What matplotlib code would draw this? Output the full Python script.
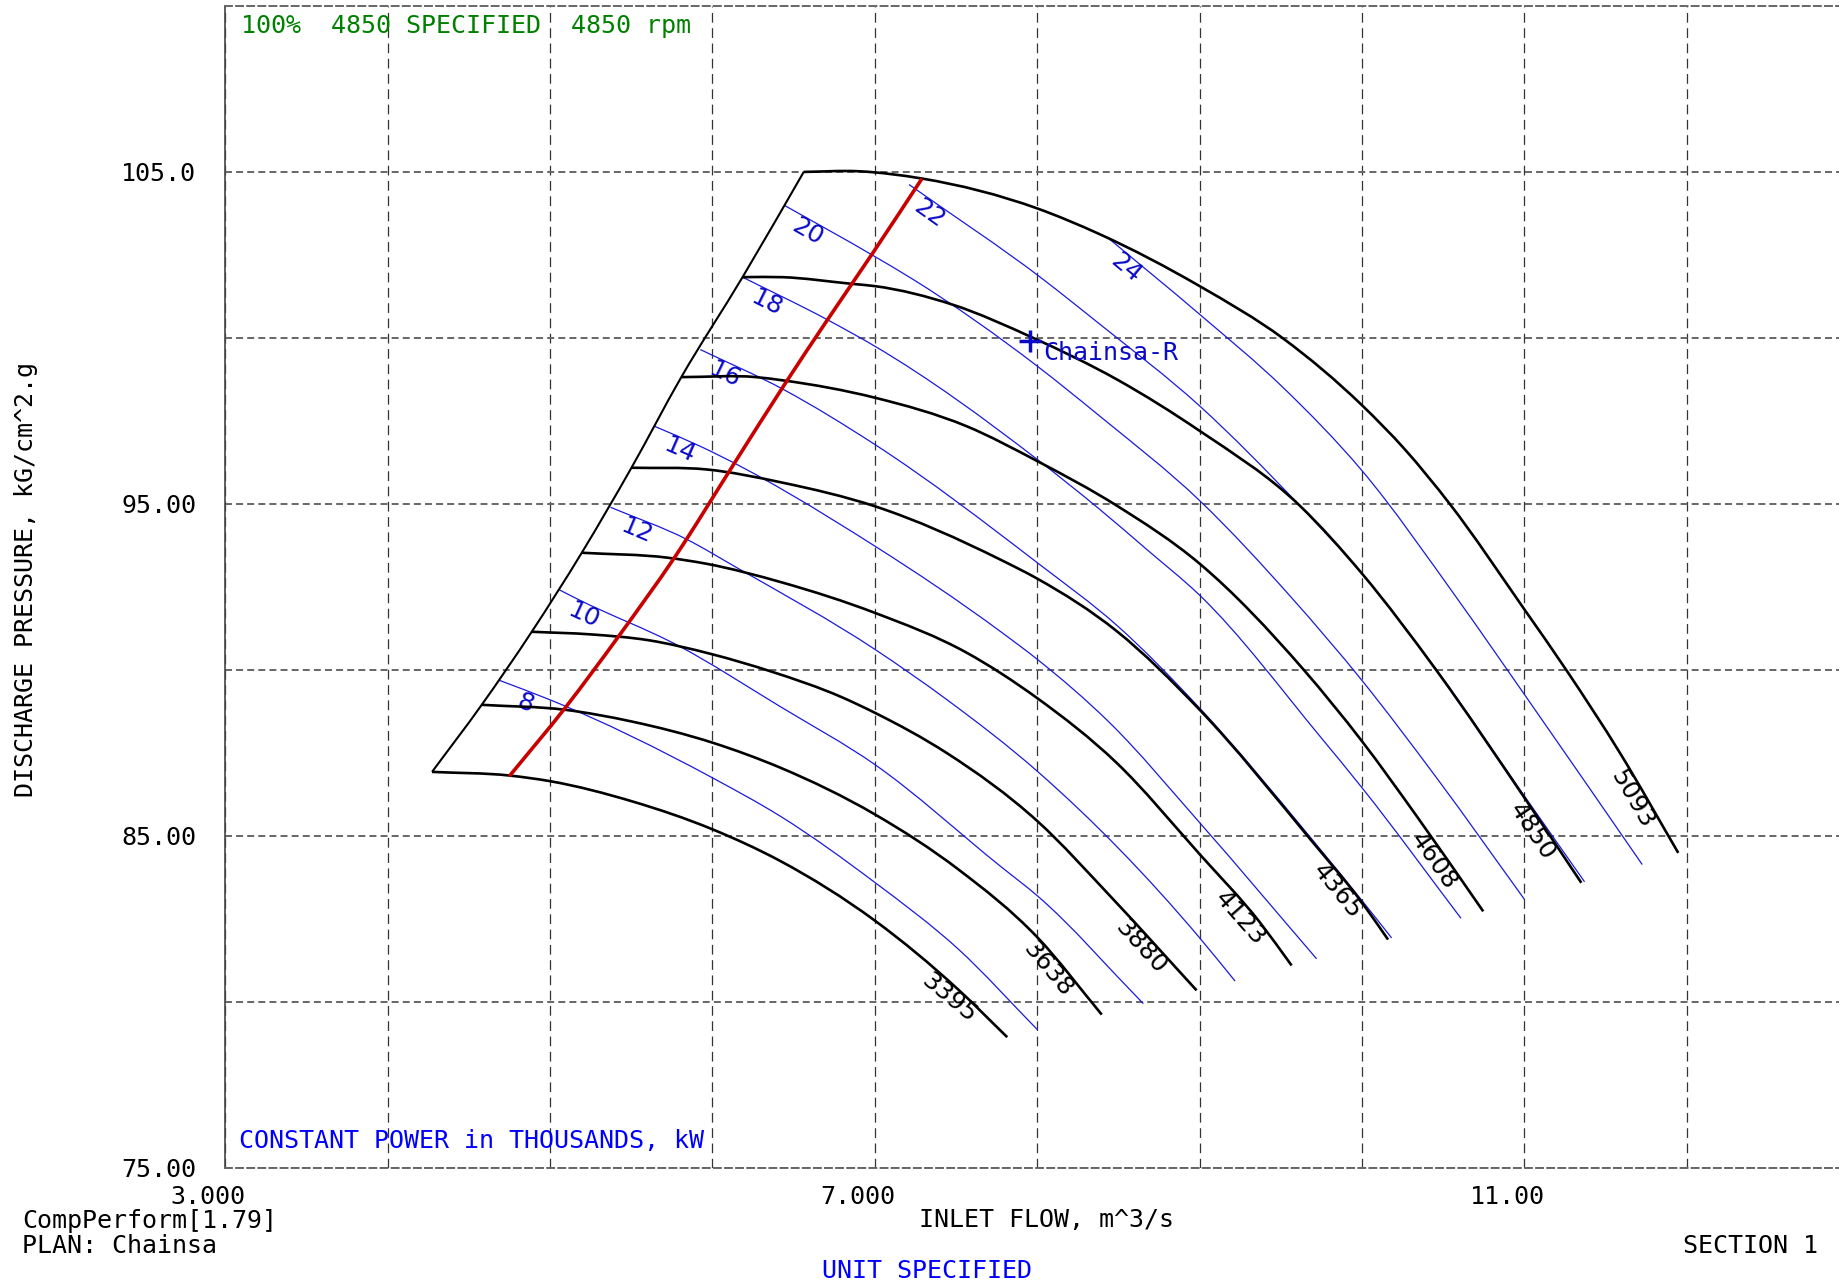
import numpy as np
import matplotlib
matplotlib.use("Agg")
from matplotlib import pyplot as plt
from matplotlib.path import Path
from matplotlib.patches import PathPatch
from matplotlib.transforms import ScaledTranslation

plt.rcParams["font.family"] = ["DejaVu Sans Mono"]
plt.rcParams["lines.scale_dashes"] = False

# speed lines, rpm: inlet flow (m^3/s) and discharge pressure (kG/cm^2.g)
speed_labels = ["3395", "3638", "3880", "4123", "4365", "4608", "4850", "5093"]
speed_flow = [
    [4.273, 4.75, 5.0, 5.5, 6.0, 6.416, 7.0, 7.512, 7.815],
    [4.579, 5.093, 5.5, 6.0, 6.416, 7.0, 7.512, 8.0, 8.397],
    [4.887, 5.254, 5.6, 6.0, 6.357, 6.796, 7.0, 7.442, 8.0, 8.468, 8.981],
    [5.195, 5.725, 5.961, 6.432, 7.0, 7.565, 8.0, 8.489, 9.0, 9.372, 9.566],
    [5.501, 5.961, 6.432, 7.0, 7.77, 8.0, 8.489, 9.0, 9.683, 10.0, 10.16],
    [5.808, 6.267, 6.436, 7.0, 7.565, 8.0, 8.489, 9.0, 9.638, 10.0, 10.336, 10.746],
    [6.185, 6.43, 6.856, 7.0, 7.48, 7.975, 8.49, 9.0, 9.616, 10.0, 10.459, 11.0, 11.35],
    [6.562, 6.9, 7.29, 8.0, 8.386, 9.0, 9.515, 10.0, 10.264, 10.54, 11.0, 11.26, 11.588, 11.947],
]
speed_pres = [
    [86.93, 86.82, 86.65, 86.05, 85.2, 84.25, 82.45, 80.38, 78.94],
    [88.95, 88.8, 88.45, 87.81, 87.06, 85.65, 84.0, 81.95, 79.62],
    [91.15, 91.07, 90.9, 90.47, 89.96, 89.18, 88.71, 87.5, 85.45, 83.09, 80.35],
    [93.53, 93.38, 93.2, 92.63, 91.72, 90.52, 89.15, 87.2, 84.45, 82.39, 81.1],
    [96.09, 96.04, 95.64, 94.93, 93.33, 92.75, 91.17, 88.8, 84.89, 82.99, 81.88],
    [98.82, 98.82, 98.72, 98.2, 97.34, 96.29, 94.95, 93.2, 90.02, 87.85, 85.6, 82.73],
    [101.83, 101.83, 101.63, 101.56, 101.0, 100.0, 98.75, 97.2, 94.95, 92.9, 89.98, 86.15, 83.59],
    [105.0, 105.02, 104.8, 103.9, 103.12, 101.56, 99.98, 97.97, 96.64, 95.0, 91.82, 89.98, 87.5, 84.49],
]

# constant power lines, thousands kW
power_labels = ["8", "10", "12", "14", "16", "18", "20", "22", "24"]
power_flow = [
    [4.686, 5.0, 6.0, 6.416, 7.0, 7.512, 8.0],
    [5.054, 5.175, 5.794, 6.416, 7.0, 7.77, 8.0, 8.653],
    [5.372, 5.843, 6.15, 7.0, 7.442, 8.0, 9.0, 9.218],
    [5.643, 5.923, 7.0, 7.77, 8.0, 8.448, 9.0, 9.72],
    [5.925, 6.436, 7.0, 8.0, 8.5, 9.0, 9.683, 10.0, 10.182],
    [6.185, 6.703, 7.0, 8.0, 8.386, 8.674, 9.0, 9.741, 10.0, 10.609],
    [6.444, 6.986, 7.236, 8.0, 8.386, 9.0, 9.576, 10.0, 10.459, 11.0],
    [7.21, 8.037, 8.386, 9.0, 9.616, 10.0, 10.459, 11.0, 11.37],
    [8.434, 9.0, 9.515, 10.0, 10.593, 11.0, 11.725],
]
power_pres = [
    [89.69, 89.1, 86.75, 85.6, 83.6, 81.6, 79.17],
    [92.42, 92.12, 90.72, 88.9, 87.15, 84.1, 83.2, 79.95],
    [94.9, 93.93, 93.08, 90.62, 89.11, 86.95, 81.93, 80.63],
    [97.34, 96.74, 93.73, 91.17, 90.32, 88.4, 85.4, 81.3],
    [99.65, 98.45, 96.79, 93.23, 91.3, 88.85, 84.95, 83.05, 81.93],
    [101.83, 100.56, 99.75, 96.34, 94.83, 93.63, 92.25, 88.0, 86.45, 82.52],
    [103.99, 102.49, 101.76, 99.15, 97.64, 95.1, 92.12, 89.68, 86.75, 83.09],
    [104.62, 101.76, 100.41, 97.95, 94.95, 92.9, 90.0, 86.2, 83.62],
    [103.02, 100.71, 98.5, 96.0, 92.1, 89.26, 84.14],
]

# surge line
surge_flow = [4.273, 4.579, 4.887, 5.195, 5.501, 5.808, 6.185, 6.562]
surge_pres = [86.93, 88.95, 91.15, 93.53, 96.09, 98.82, 101.83, 105.0]

# red control line
ctrl_flow = [4.749, 5.093, 5.423, 5.772, 6.13, 6.444, 6.703, 6.986, 7.29]
ctrl_pres = [86.8, 88.86, 91.02, 93.43, 96.19, 98.6, 100.51, 102.55, 104.8]

# rated point
op_flow = 7.957
op_pres = 99.92
op_name = "Chainsa-R"

x_major = [3, 7, 11]
x_major_labels = ["3.000", "7.000", "11.00"]
x_minor = [4, 5, 6, 8, 9, 10, 12]
y_major = [75, 85, 95, 105]
y_major_labels = ["75.00", "85.00", "95.00", "105.0"]
y_minor = [80, 90, 100]

W, H = 1840, 1286
fig = plt.figure(figsize=(W / 100, H / 100), dpi=100)
ax = fig.add_axes([225.3 / W, 1 - 1168 / H, 1 - 225.3 / W, (1168 - 5.9) / H])
ax.set_xlim(3, 12.943)
ax.set_ylim(75, 110)

# grid
ax.set_xticks(x_major)
ax.set_xticklabels(x_major_labels)
ax.set_xticks(x_minor, minor=True)
ax.set_yticks(y_major)
ax.set_yticklabels(y_major_labels)
ax.set_yticks(y_minor, minor=True)
ax.set_axisbelow(True)
ax.grid(which="both", axis="x", color="#333333", lw=0.9, linestyle=(0, (7, 4)))
ax.grid(which="both", axis="y", color="#666666", lw=1.4, linestyle=(0, (5, 3)))
ax.tick_params(which="both", length=0)
ax.tick_params(axis="y", pad=21, labelsize=18)
ax.tick_params(axis="x", pad=12, labelsize=18)
for lab in ax.get_xticklabels():
    lab.set_transform(lab.get_transform() + ScaledTranslation(-0.17, 0, fig.dpi_scale_trans))

ax.spines["right"].set_visible(False)
ax.spines["left"].set_color("#444444")
ax.spines["left"].set_linewidth(1.2)
for s in ["top", "bottom"]:
    ax.spines[s].set_color("#666666")
    ax.spines[s].set_linewidth(1.4)
    ax.spines[s].set_linestyle((0, (5, 3)))


def curve(xs, ys, **kw):
    # smooth cubic bezier through the read points (x is the parameter)
    x = np.asarray(xs, float)
    y = np.asarray(ys, float)
    h = np.diff(x)
    d = np.diff(y) / h
    m = np.empty_like(y)
    m[0], m[-1] = d[0], d[-1]
    m[1:-1] = (d[:-1] * h[1:] + d[1:] * h[:-1]) / (h[:-1] + h[1:])
    verts = [(x[0], y[0])]
    codes = [Path.MOVETO]
    for i in range(len(h)):
        verts += [(x[i] + h[i] / 3, y[i] + m[i] * h[i] / 3),
                  (x[i + 1] - h[i] / 3, y[i + 1] - m[i + 1] * h[i] / 3),
                  (x[i + 1], y[i + 1])]
        codes += [Path.CURVE4] * 3
    ax.add_patch(PathPatch(Path(verts, codes), fill=False, **kw))


def label_on_line(xs, ys, text, dist, offset, from_end, **kw):
    pts = ax.transData.transform(np.column_stack([xs, ys]))
    if from_end:
        pts = pts[::-1]
    seg = np.diff(pts, axis=0)
    seglen = np.hypot(seg[:, 0], seg[:, 1])
    cum = np.concatenate([[0], np.cumsum(seglen)])
    i = int(np.clip(np.searchsorted(cum, dist) - 1, 0, len(seg) - 1))
    f = (dist - cum[i]) / seglen[i]
    p = pts[i] + f * seg[i]
    t = seg[i] / seglen[i]
    if t[0] < 0:
        t = -t
    n = np.array([t[1], -t[0]])
    q = ax.transData.inverted().transform(p + offset * n)
    ang = np.degrees(np.arctan2(t[1], t[0]))
    ax.text(q[0], q[1], text, rotation=ang, rotation_mode="anchor",
            ha="center", va="center", **kw)


# constant power lines
for fx, py, lab in zip(power_flow, power_pres, power_labels):
    curve(fx, py, edgecolor="#1a1adc", lw=0.9, zorder=2)
    label_on_line(fx, py, lab, 33, 12, False, color="#0a0ac8",
                  fontsize=18, family="DejaVu Sans")

# speed lines
for fx, py, lab in zip(speed_flow, speed_pres, speed_labels):
    curve(fx, py, edgecolor="black", lw=1.9, zorder=3, capstyle="butt")
    label_on_line(fx, py, lab, 70, 12, True, color="black",
                  fontsize=18, family="DejaVu Sans")

curve(surge_flow, surge_pres, edgecolor="black", lw=1.5, zorder=3)
curve(ctrl_flow, ctrl_pres, edgecolor="#c80000", lw=2.6, zorder=4)

ax.plot(op_flow, op_pres, marker="+", color="#0a0ac8", ms=16, mew=2.5, zorder=5)
ax.annotate(op_name, (op_flow, op_pres), xytext=(9, -9), textcoords="offset points",
            ha="left", va="center", color="#0a0ac8", fontsize=18, zorder=5)

ax.text(240.6 / W, 1 - 26 / H, "100%  4850 SPECIFIED  4850 rpm", transform=fig.transFigure,
        ha="left", va="center", color="#008000", fontsize=18)
ax.text(239 / W, 1 - 1141 / H, "CONSTANT POWER in THOUSANDS, kW", transform=fig.transFigure,
        ha="left", va="center", color="#0000ff", fontsize=18)

fig.text(26 / W, 1 - 580 / H, "DISCHARGE PRESSURE, kG/cm^2.g", rotation=90,
         ha="center", va="center", fontsize=18)
fig.text(1047 / W, 1 - 1220 / H, "INLET FLOW, m^3/s", ha="center", va="center", fontsize=18)
fig.text(22 / W, 1 - 1221 / H, "CompPerform[1.79]", ha="left", va="center", fontsize=18)
fig.text(22 / W, 1 - 1246 / H, "PLAN: Chainsa", ha="left", va="center", fontsize=18)
fig.text(1818 / W, 1 - 1246 / H, "SECTION 1", ha="right", va="center", fontsize=18)
fig.text(927 / W, 1 - 1271 / H, "UNIT SPECIFIED", ha="center", va="center",
         color="#0000ff", fontsize=18)

fig.savefig("out.png", dpi=100)
